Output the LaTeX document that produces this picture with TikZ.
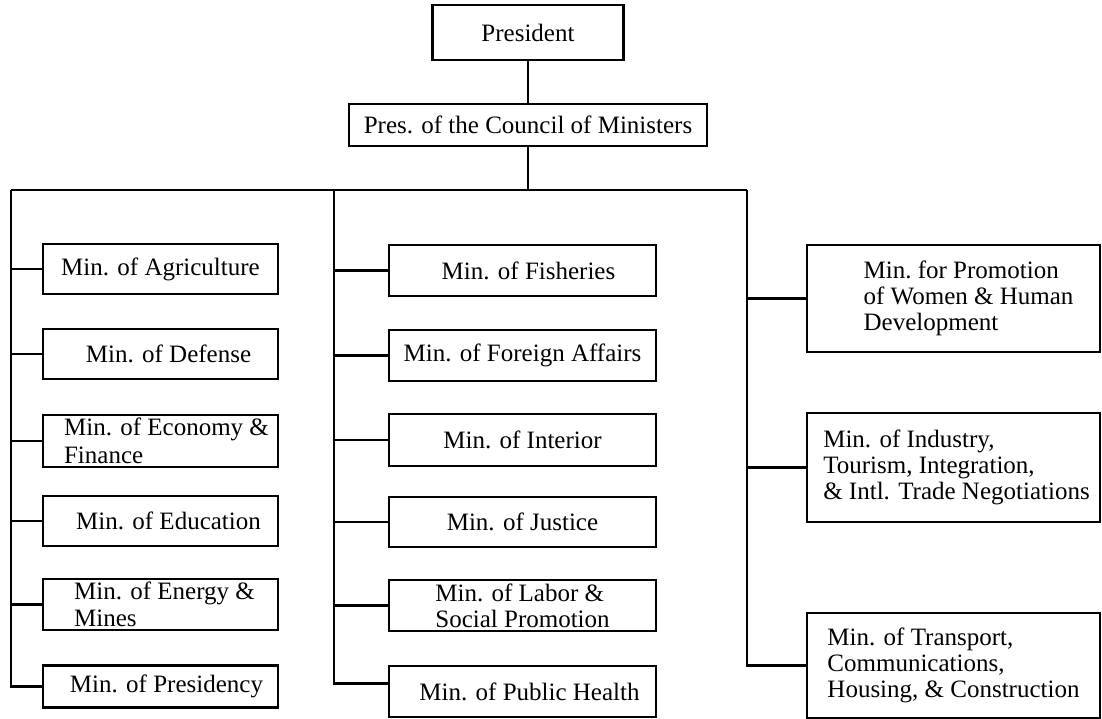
\documentclass[tikz,border=0pt]{standalone}
\usepackage{fontspec}
\setmainfont{Liberation Serif}
\begin{document}
\begin{tikzpicture}[x=1pt,y=-1pt,
  box/.style={draw,line width=2.2pt,inner sep=0pt,align=center,
    font=\fontsize{25}{26}\selectfont},
  lbox/.style={box,minimum width=235pt,minimum height=50pt},
  mbox/.style={box,minimum width=267pt,minimum height=51pt},
  rbox/.style={box,minimum width=293pt,align=left},
  conn/.style={line width=2.2pt}]
\useasboundingbox (0,0) rectangle (1102,719);
% top
\node[box,minimum width=191pt,minimum height=55pt] (pres) at (528,32.5) {President};
\node[box,minimum width=358pt,minimum height=42pt] (council) at (528,125) {Pres. of the Council of Ministers};
\coordinate (bus) at (528,190);
\coordinate (L) at (11,190);
\coordinate (M) at (334,190);
\coordinate (R) at (747,190);
\draw[conn] (pres) -- (council);
\draw[conn] (council) -- (bus);
\draw[conn] (L) -- (R);
% left column
\node[lbox] (agr) at (160.5,269) {Min. of Agriculture};
\node[lbox] (def) at (160.5,354) {\hspace*{16pt}Min. of Defense};
\node[lbox,minimum height=52pt,align=left,font=\fontsize{25}{28}\selectfont] (eco) at (160.5,441) {\hspace*{12pt}Min. of Economy \&\\\hspace*{12pt}Finance};
\node[lbox] (edu) at (160.5,521) {\hspace*{16pt}Min. of Education};
\node[lbox,minimum height=51pt,align=left,font=\fontsize{25}{27}\selectfont] (ene) at (160.5,604.5) {\hspace*{8pt}Min. of Energy \&\\\hspace*{8pt}Mines};
\node[lbox,minimum height=42pt] (prs) at (160.5,686.5) {\hspace*{12pt}Min. of Presidency};
\draw[conn] (L) |- (prs.west);
\foreach \n in {agr,def,eco,edu,ene} \draw[conn] (L |- \n.west) -- (\n.west);
% middle column
\node[mbox] (fis) at (522.5,270.5) {\hspace*{12pt}Min. of Fisheries};
\node[mbox] (for) at (522.5,355.5) {Min. of Foreign Affairs};
\node[mbox,minimum height=52pt] (int) at (522.5,440) {Min. of Interior};
\node[mbox,minimum height=50pt] (jus) at (522.5,522) {Min. of Justice};
\node[mbox,align=left] (lab) at (522.5,605.5) {Min. of Labor \&\\Social Promotion};
\node[mbox] (pub) at (522.5,691.5) {\hspace*{14pt}Min. of Public Health};
\draw[conn] (M) |- ([yshift=8pt]pub.west);
\foreach \n in {fis,for,int,jus,lab} \draw[conn] (M |- \n.west) -- (\n.west);
% right column
\node[rbox,minimum height=107pt] (prom) at (953.5,298.5) {\hspace*{30pt}Min.\ for Promotion\\\hspace*{30pt}of Women \& Human\\\hspace*{30pt}Development};
\node[rbox,minimum height=109pt] (ind) at (953.5,467.5) {\hspace*{6pt}Min. of Industry,\\\hspace*{6pt}Tourism, Integration,\\\hspace*{6pt}\& Intl. Trade Negotiations};
\node[rbox,minimum height=105pt] (tra) at (953.5,665.5) {Min. of Transport,\\Communications,\\Housing, \& Construction};
\draw[conn] (R) |- (tra.west);
\foreach \n in {prom,ind} \draw[conn] (R |- \n.west) -- (\n.west);
\end{tikzpicture}
\end{document}
